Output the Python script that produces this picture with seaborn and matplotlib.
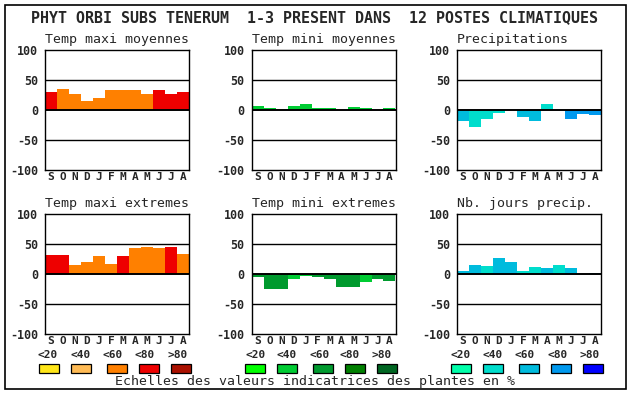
import matplotlib
matplotlib.use("Agg")
import matplotlib.pyplot as plt
from matplotlib.patches import Rectangle
import seaborn as sns
import pandas as pd

# ---------------- data ----------------
month_keys = ["Sep", "Oct", "Nov", "Dec", "Jan", "Feb", "Mar", "Apr", "May", "Jun", "Jul", "Aug"]
month_labels = ["S", "O", "N", "D", "J", "F", "M", "A", "M", "J", "J", "A"]

title_main = "PHYT ORBI SUBS TENERUM  1-3 PRESENT DANS  12 POSTES CLIMATIQUES"
panel_titles = ["Temp maxi moyennes", "Temp mini moyennes", "Precipitations",
                "Temp maxi extremes", "Temp mini extremes", "Nb. jours precip."]

tmax_moy = [30, 35, 27, 15, 20, 33, 33, 33, 27, 33, 27, 30]
tmin_moy = [7, 3, 2, 7, 10, 3, 3, 0, 5, 3, 0, 3]
precip = [-18, -28, -15, -5, 0, -12, -18, 10, 0, -15, -7, -8]
tmax_ext = [32, 32, 15, 20, 30, 17, 30, 43, 45, 43, 45, 33]
tmin_ext = [-5, -25, -25, -8, -3, -5, -8, -22, -22, -13, -8, -12]
nb_jours = [5, 15, 13, 27, 20, 5, 12, 10, 15, 10, 0, 2]

# indicator class of each bar (0:<20, 1:<40, 2:<60, 3:<80, 4:>80)
tmax_moy_cls = [3, 2, 2, 2, 2, 2, 2, 2, 2, 3, 3, 3]
tmin_moy_cls = [1, 1, 1, 1, 1, 1, 1, 1, 1, 1, 1, 1]
precip_cls = [2, 1, 1, 1, 1, 2, 2, 1, 1, 3, 3, 3]
tmax_ext_cls = [3, 3, 2, 2, 2, 2, 3, 2, 2, 2, 3, 2]
tmin_ext_cls = [2, 2, 2, 1, 1, 2, 2, 2, 2, 1, 2, 2]
nb_jours_cls = [2, 2, 1, 2, 2, 1, 1, 2, 1, 2, 2, 2]

scale_labels = ["<20", "<40", "<60", "<80", ">80"]
caption = "Echelles des valeurs indicatrices des plantes en %"

warm_pal = ["#ffe619", "#ffbb55", "#ff8000", "#ee0000", "#aa1100"]
green_pal = ["#00ff00", "#00cc33", "#009a2e", "#008000", "#006622"]
blue_pal = ["#00ffaa", "#00ddcc", "#00bbdd", "#0099ee", "#0000ff"]

# ---------------- figure ----------------
sns.set_style("white")
plt.rcParams["font.family"] = ["DejaVu Sans Mono", "DejaVu Sans"]

W, H = 630, 394
fig = plt.figure(figsize=(W / 100, H / 100), dpi=100)


def fx(px):
    return px / W


def fy(py):
    return 1 - py / H


# outer frame
fig.patches.append(Rectangle((fx(5), fy(389)), fx(621), 384 / H, transform=fig.transFigure,
                             fill=False, edgecolor="black", linewidth=1.2))

fig.text(fx(31), fy(18), title_main, ha="left", va="center", fontsize=10.8, fontweight="bold")

col_x = [45, 251.5, 457]
row_y = [50, 214]
panels = [
    (tmax_moy, tmax_moy_cls, warm_pal),
    (tmin_moy, tmin_moy_cls, green_pal),
    (precip, precip_cls, blue_pal),
    (tmax_ext, tmax_ext_cls, warm_pal),
    (tmin_ext, tmin_ext_cls, green_pal),
    (nb_jours, nb_jours_cls, blue_pal),
]

for i, (vals, cls, pal) in enumerate(panels):
    r, c = divmod(i, 3)
    x0, y0 = col_x[c], row_y[r]
    ax = fig.add_axes([fx(x0), fy(y0 + 120), 144 / W, 120 / H])
    df = pd.DataFrame({"month": month_keys, "value": vals})
    colors = [pal[k] for k in cls]
    sns.barplot(data=df, x="month", y="value", hue="month", order=month_keys,
                hue_order=month_keys, palette=colors, width=1.0, legend=False,
                saturation=1, linewidth=0, ax=ax)
    ax.set_xlim(-0.5, 11.5)
    ax.set_ylim(-100, 100)
    ax.set_yticks([-100, -50, 0, 50, 100])
    ax.set_yticklabels(["-100", "-50", "0", "50", "100"], fontsize=8.4, fontweight="bold")
    ax.set_xticks(range(12))
    ax.set_xticklabels(month_labels, fontsize=8.0, fontweight="bold")
    ax.tick_params(axis="y", length=0, pad=5)
    ax.tick_params(axis="x", length=0, pad=1.2)
    ax.set_xlabel("")
    ax.set_ylabel("")
    for yv in (50, -50):
        ax.axhline(yv, color="black", linewidth=1.0, zorder=0.5)
    ax.axhline(0, color="black", linewidth=1.4, zorder=3)
    for sp in ax.spines.values():
        sp.set_visible(True)
        sp.set_color("black")
        sp.set_linewidth(1.0)
    fig.text(fx(x0), fy(y0 - 11), panel_titles[i], ha="left", va="center", fontsize=9.5)

# scales legend
box_centers = [
    [49, 81, 117, 149, 181],
    [255, 287, 323, 355, 387],
    [461, 493, 529, 561, 593],
]
label_centers = [
    [48, 81, 113, 145, 178],
    [256, 287, 320, 350, 382],
    [461, 493, 525, 558, 590],
]
for pal, bcs, lcs in zip([warm_pal, green_pal, blue_pal], box_centers, label_centers):
    for k in range(5):
        fig.text(fx(lcs[k]), fy(355), scale_labels[k], ha="center", va="center",
                 fontsize=8.0, fontweight="bold")
        fig.patches.append(Rectangle((fx(bcs[k] - 10), fy(373)), 20 / W, 9 / H,
                                     transform=fig.transFigure, facecolor=pal[k],
                                     edgecolor="black", linewidth=0.9))

fig.text(fx(115), fy(382), caption, ha="left", va="center", fontsize=9.5)

fig.savefig("out.png", dpi=100)
